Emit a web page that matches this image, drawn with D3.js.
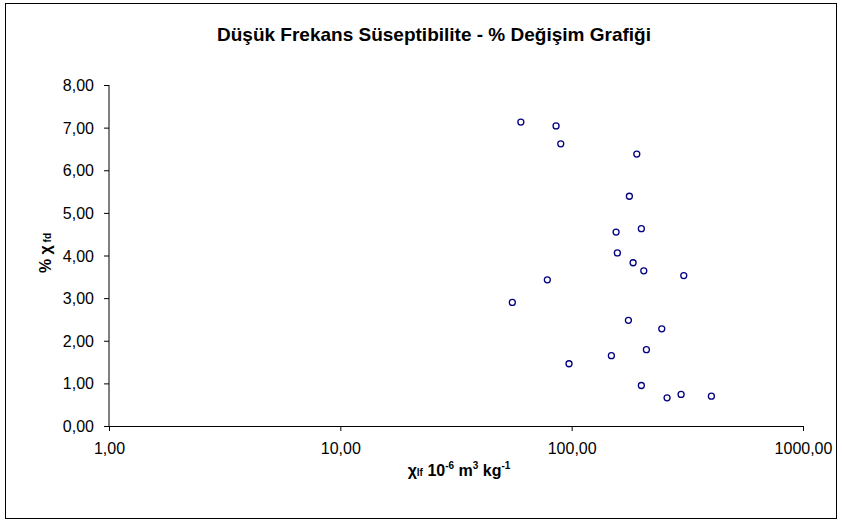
<!DOCTYPE html>
<html>
<head>
<meta charset="utf-8">
<script src="https://cdn.jsdelivr.net/npm/d3@7"></script>
<style>
  html, body { margin: 0; padding: 0; background: #fff; }
  svg { display: block; font-family: "Liberation Sans", Arial, sans-serif; }
</style>
</head>
<body>
<svg id="chart" width="842" height="523"></svg>
<script>
// Low-frequency susceptibility (χlf, 10^-6 m³ kg^-1) vs. frequency-dependent change (% χfd)
const chiLf = [60.3, 85.6, 89.7, 191.2, 177.6, 200.1, 155.6, 157.6, 184.3, 205.0, 305.2,
               78.5, 55.4, 175.9, 245.2, 210.4, 148.5, 97.4, 200.1, 258.5, 297.2, 401.8];
const chiFd = [7.13, 7.04, 6.62, 6.38, 5.39, 4.63, 4.55, 4.06, 3.83, 3.64, 3.53,
               3.43, 2.90, 2.48, 2.28, 1.79, 1.65, 1.46, 0.95, 0.66, 0.74, 0.70];
const xTicks = [1, 10, 100, 1000];
const yTicks = [0, 1, 2, 3, 4, 5, 6, 7, 8];

const svg = d3.select("#chart");
const W = 842, H = 523;
const margin = { left: 109, right: 39, top: 85, bottom: 97 };

// chart area frame
svg.append("rect")
  .attr("x", 5.5).attr("y", 3.5)
  .attr("width", 831).attr("height", 515)
  .attr("fill", "#fff").attr("stroke", "#000").attr("stroke-width", 1);

const x = d3.scaleLog().domain([1, 1000]).range([margin.left, W - margin.right]);
const y = d3.scaleLinear().domain([0, 8]).range([H - margin.bottom, margin.top]);

const fmt = d => d3.format(".2f")(d).replace(".", ",");

// x axis
const xAxis = svg.append("g")
  .attr("transform", `translate(0,${y(0)})`)
  .call(d3.axisBottom(x).tickValues(xTicks).tickFormat(fmt).tickSize(5).tickPadding(12));
// y axis
const yAxis = svg.append("g")
  .attr("transform", `translate(${x(1)},0)`)
  .call(d3.axisLeft(y).tickValues(yTicks).tickFormat(fmt).tickSize(5).tickPadding(10));

[xAxis, yAxis].forEach(g => {
  g.select(".domain").attr("stroke", "#000").attr("stroke-width", 1);
  g.selectAll(".tick line").attr("stroke", "#000");
  g.selectAll(".tick text")
    .attr("fill", "#000")
    .style("font-size", "16px")
    .style("font-family", "'Liberation Sans', Arial, sans-serif");
});
yAxis.select(".domain").attr("d", `M0,${y(0)}V${y(8)}`);
yAxis.selectAll(".tick text").attr("dy", "0.35em");

// points
svg.append("g").selectAll("circle")
  .data(chiLf.map((v, i) => [v, chiFd[i]]))
  .join("circle")
  .attr("cx", d => x(d[0]))
  .attr("cy", d => y(d[1]))
  .attr("r", 3)
  .attr("fill", "none")
  .attr("stroke", "#000080")
  .attr("stroke-width", 1.3);

// title
svg.append("text")
  .attr("x", 434).attr("y", 41)
  .attr("text-anchor", "middle")
  .style("font-size", "19px").style("font-weight", "bold")
  .text("Düşük Frekans Süseptibilite - % Değişim Grafiği");

// y axis title
const yt = svg.append("text")
  .attr("transform", "translate(51,253) rotate(-90)")
  .attr("text-anchor", "middle")
  .style("font-size", "16px").style("font-weight", "bold");
yt.append("tspan").text("% χ");
yt.append("tspan").style("font-size", "10px").text(" fd");

// x axis title
const xt = svg.append("text")
  .attr("x", 459).attr("y", 476)
  .attr("text-anchor", "middle")
  .style("font-size", "16px").style("font-weight", "bold");
xt.append("tspan").text("χ");
xt.append("tspan").style("font-size", "10px").text("lf");
xt.append("tspan").text(" 10");
xt.append("tspan").attr("dy", -7).style("font-size", "10px").text("-6");
xt.append("tspan").attr("dy", 7).text(" m");
xt.append("tspan").attr("dy", -7).style("font-size", "10px").text("3");
xt.append("tspan").attr("dy", 7).text(" kg");
xt.append("tspan").attr("dy", -7).style("font-size", "10px").text("-1");
</script>
</body>
</html>
